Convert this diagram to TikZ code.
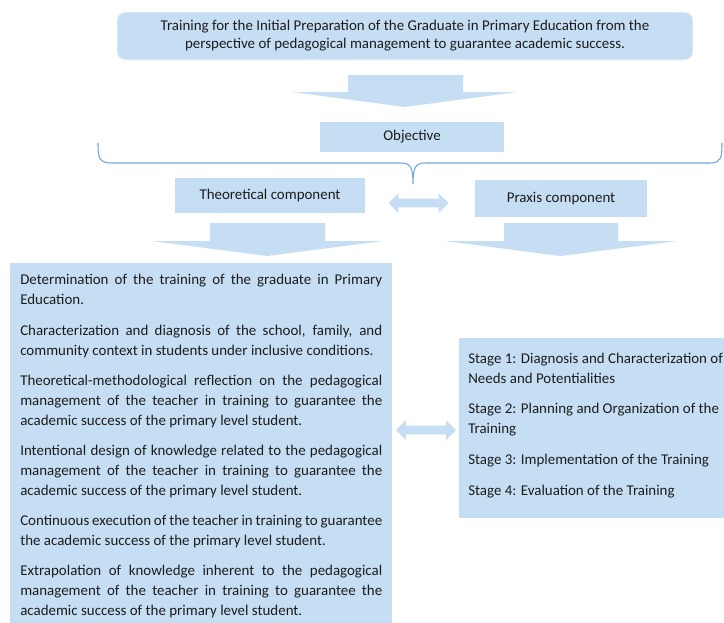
\documentclass[tikz,border=0pt]{standalone}
\usepackage{fontspec}
\setmainfont{Carlito}
\usetikzlibrary{shapes.arrows}
\definecolor{boxblue}{RGB}{198,222,244}
\definecolor{bracecol}{RGB}{112,166,221}
\definecolor{txt}{RGB}{28,28,28}
\begin{document}
\begin{tikzpicture}[x=0.75pt,y=-0.75pt,
  box/.style={fill=boxblue, inner sep=0pt, text=txt, font=\fontsize{11.2}{13.5}\selectfont},
  blockarrow/.style={fill=boxblue},
  dblarrow/.style={double arrow, fill=boxblue, inner sep=3pt, minimum height=45pt,
    double arrow head extend=4.2pt, double arrow head indent=0pt},
  brace/.style={draw=bracecol, line width=0.8pt}]
\useasboundingbox (0,0) rectangle (724,622);
\clip (0,0) rectangle (724,622);
\fill[white] (0,0) rectangle (724,622);

% top title
\node[box, rounded corners=6pt, minimum width=432pt, minimum height=36pt, align=center,
  draw=white!85!boxblue, line width=0.6pt] (top) at (405,36)
  {Training for the Initial Preparation of the Graduate in Primary Education from the\\
   perspective of pedagogical management to guarantee academic success.};

% arrow 1
\fill[blockarrow] (348,75) -- (463,75) -- (463,92) -- (517,92) -- (405,107)
  -- (292,92) -- (348,92) -- cycle;

\node[box, minimum width=138pt, minimum height=22.5pt] (obj) at (412,137) {Objective};

% brace
\draw[brace] (98,143) .. controls (98,158) and (99,163) .. (112,163) -- (400,163)
  .. controls (410,163) and (413,166) .. (413,184)
  .. controls (413,166) and (416,163) .. (426,163) -- (710,163)
  .. controls (721,163) and (722,158) .. (722,143);

\node[box, minimum width=142.5pt, minimum height=26.25pt] (theocomp) at (270,195.5) {Theoretical component};
\node[box, minimum width=129pt, minimum height=27.75pt] (praxcomp) at (561,198.5) {Praxis component};
\node[dblarrow] (d1) at (418.5,203) {};

% arrows 2 and 3
\fill[blockarrow] (210,223) -- (325,223) -- (325,241) -- (383,241) -- (267,256)
  -- (152,241) -- (210,241) -- cycle;
\fill[blockarrow] (504,223) -- (618,223) -- (618,241) -- (677,241) -- (560,256)
  -- (445,241) -- (504,241) -- cycle;

% left box
\node[box, anchor=north west, inner xsep=7.5pt, inner ysep=8.5pt, text width=271.5pt,
  align=justify, font=\fontsize{11.2}{15}\selectfont] (theo) at (10,263)
  {\setlength{\parskip}{7.6pt}%
  Determination of the training of the graduate in Primary\linebreak Education.\par
  Characterization and diagnosis of the school, family, and\linebreak community context in students under inclusive conditions.\par
  Theoretical-methodological reflection on the pedagogical\linebreak management of the teacher in training to guarantee the\linebreak academic success of the primary level student.\par
  Intentional design of knowledge related to the pedagogical\linebreak management of the teacher in training to guarantee the\linebreak academic success of the primary level student.\par
  Continuous execution of the teacher in training to guarantee\linebreak the academic success of the primary level student.\par
  Extrapolation of knowledge inherent to the pedagogical\linebreak management of the teacher in training to guarantee the\linebreak academic success of the primary level student.\par\vspace{12pt}};

% right box
\node[box, anchor=north west, inner xsep=6.75pt, inner ysep=11pt, font=\fontsize{11.2}{15}\selectfont] (prax) at (459,338)
  {\parbox[t][113pt][t]{202.5pt}{\raggedright\setlength{\parskip}{8pt}%
  Stage 1: Diagnosis and Characterization of\\ Needs and Potentialities\par
  Stage 2: Planning and Organization of the\\ Training\par
  Stage 3: Implementation of the Training\par
  Stage 4: Evaluation of the Training\par}};

\node[dblarrow] (d2) at (426,430) {};
\end{tikzpicture}
\end{document}
